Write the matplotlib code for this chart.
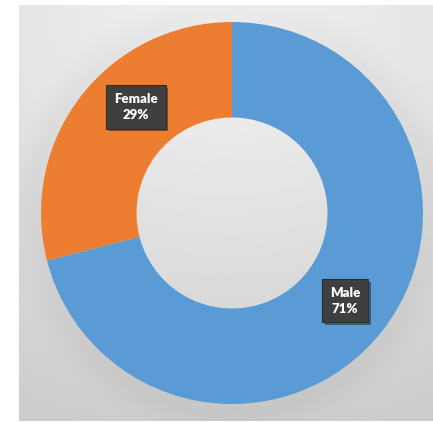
import numpy as np
import matplotlib.pyplot as plt
import matplotlib.patheffects as pe

# data
labels = ["Male", "Female"]
values = [71, 29]
colors = ["#5B9BD5", "#ED7D31"]
label_nudge = [0, -10]  # degrees, shift label along the ring

W, H = 433, 422
fig = plt.figure(figsize=(W / 100, H / 100), dpi=100)
fig.patch.set_facecolor("white")

# gray gradient panel behind the chart
bg = fig.add_axes([19 / W, 1 / H, (W - 19) / W, (H - 6) / H])
yy, xx = np.mgrid[0:1:300j, 0:1:300j]
d = np.sqrt((xx - 0.5) ** 2 * 0.6 + (yy - 0.05) ** 2)
shade = 0.96 - 0.16 * d
# soft darkening around the ring (shadow)
r = np.sqrt((xx - 0.515) ** 2 + (yy - 0.50) ** 2)
shade -= 0.035 * np.exp(-((r - 0.47) / 0.05) ** 2)
bg.imshow(shade, cmap="gray", vmin=0, vmax=1, extent=[0, 1, 0, 1],
          origin="upper", aspect="auto", interpolation="bicubic")
bg.axis("off")

# donut
ax = fig.add_axes([41 / W, 18 / H, 382 / W, 382 / H])
ax.patch.set_alpha(0)
wedges, _ = ax.pie(values, colors=colors, startangle=90, counterclock=False,
                   radius=1, wedgeprops=dict(width=0.5, linewidth=0))
ax.set_xlim(-1, 1)
ax.set_ylim(-1, 1)
ax.set_aspect("equal")
ax.axis("off")

for w, lab, v, nud in zip(wedges, labels, values, label_nudge):
    ang = np.deg2rad((w.theta1 + w.theta2) / 2 + nud)
    x, y = 0.75 * np.cos(ang), 0.75 * np.sin(ang)
    t = ax.text(x, y, f"{lab}\n{v}%", ha="center", va="center",
                color="white", fontsize=9.5, fontweight="heavy",
                family="Lato", linespacing=1.35,
                bbox=dict(boxstyle="square,pad=0.6", fc="#3f3f3f",
                          ec="#2e2e2e", lw=0.8))
    t.get_bbox_patch().set_path_effects(
        [pe.SimplePatchShadow(offset=(2, -2), alpha=0.45), pe.Normal()])

fig.savefig("out.png", dpi=100)
